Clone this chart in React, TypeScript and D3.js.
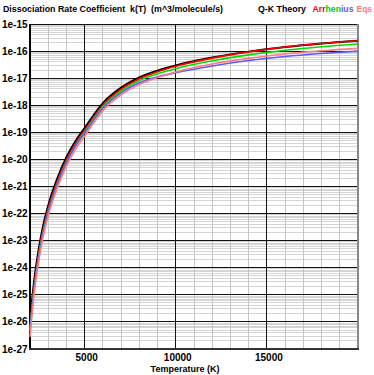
import React from "react";
import * as d3 from "d3";

const temps = [2000, 2200, 2400, 2600, 2800, 3000, 3500, 4000, 4500, 5000, 6000, 7000, 8000, 9000, 10000, 12000, 14000, 16000, 18000, 20000];

// log10 k(T), m^3/molecule/s
const qkTheory = [-26.0, -24.65, -23.65, -22.85, -22.22, -21.7, -20.7, -19.92, -19.32, -18.84, -17.92, -17.35, -16.97, -16.72, -16.53, -16.24, -16.02, -15.85, -15.72, -15.62];
const arrRed = [-26.2, -24.83, -23.81, -22.99, -22.35, -21.82, -20.81, -20.02, -19.41, -18.92, -17.99, -17.41, -17.02, -16.76, -16.56, -16.26, -16.03, -15.85, -15.72, -15.62];
const henGreen = [-26.3, -24.93, -23.91, -23.09, -22.45, -21.92, -20.9, -20.1, -19.48, -18.99, -18.06, -17.48, -17.09, -16.84, -16.65, -16.36, -16.14, -15.97, -15.84, -15.74];
const iusBlue = [-26.35, -24.97, -23.95, -23.13, -22.48, -21.94, -20.92, -20.12, -19.51, -19.03, -18.11, -17.54, -17.17, -16.95, -16.8, -16.55, -16.35, -16.2, -16.09, -16.0];
const eqsPink = [-26.55, -25.15, -24.11, -23.28, -22.62, -22.08, -21.05, -20.25, -19.63, -19.14, -18.2, -17.62, -17.23, -16.97, -16.77, -16.48, -16.27, -16.11, -15.99, -15.9];

const xTicks = [5000, 10000, 15000];
const yExponents = [-15, -16, -17, -18, -19, -20, -21, -22, -23, -24, -25, -26, -27];

const font = "'Liberation Sans', Arial, sans-serif";

export default function App() {
  const x = d3.scaleLinear().domain([2000, 20000]).range([30, 358]);
  const y = d3.scaleLog().domain([1e-27, 1e-15]).range([349, 24]);

  const minorX = d3.range(3000, 20000, 1000).filter((t) => t % 5000 !== 0);
  const minorY: number[] = [];
  yExponents.slice(0, -1).forEach((e) => {
    d3.range(2, 10).forEach((m) => minorY.push(m * Math.pow(10, e - 1)));
  });

  const line = d3
    .line<number>()
    .x((_, i) => x(temps[i]))
    .y((v) => y(Math.pow(10, v)))
    .curve(d3.curveMonotoneX);

  const series = [
    { data: qkTheory, color: "#000000", w: 2 },
    { data: arrRed, color: "#ff0000", w: 1.6 },
    { data: henGreen, color: "#00dd00", w: 1.6 },
    { data: iusBlue, color: "#5c5cff", w: 1.6 },
    { data: eqsPink, color: "#ff7c7c", w: 1.6 },
  ];

  return (
    <div style={{ position: "absolute", left: 0, top: 0 }}>
      <svg width={374} height={375} style={{ display: "block", background: "#fff" }}>
        <rect x={0} y={0} width={374} height={375} fill="#fff" />
        <g shapeRendering="crispEdges">
          {minorY.map((v, i) => (
            <line key={"my" + i} x1={30} x2={358} y1={y(v)} y2={y(v)} stroke="#d4d4d4" />
          ))}
          {minorX.map((t) => (
            <line key={"mx" + t} x1={x(t)} x2={x(t)} y1={24} y2={349} stroke="#c4c4c4" />
          ))}
          {yExponents.map((e) => (
            <line key={"dy" + e} x1={30} x2={358} y1={y(Math.pow(10, e))} y2={y(Math.pow(10, e))} stroke="#111" />
          ))}
          {xTicks.map((t) => (
            <line key={"dx" + t} x1={x(t)} x2={x(t)} y1={24} y2={349} stroke="#111" />
          ))}
          <line x1={358} x2={358} y1={24} y2={350} stroke="#888" strokeWidth={2} />
          <line x1={30} x2={30} y1={24} y2={350} stroke="#000" strokeWidth={2} />
          <line x1={29} x2={359} y1={349} y2={349} stroke="#333" strokeWidth={2} />
        </g>

        {series.map((s, i) => (
          <path key={i} d={line(s.data) || ""} fill="none" stroke={s.color} strokeWidth={s.w} />
        ))}

        <g fontFamily={font} fontWeight="bold" fill="#000">
          <text x={3} y={12} fontSize={9} textLength={220} lengthAdjust="spacingAndGlyphs" style={{ whiteSpace: "pre" }}>
            Dissociation Rate Coefficient  k(T)  (m^3/molecule/s)
          </text>
          <text x={258} y={12} fontSize={9} textLength={48} lengthAdjust="spacingAndGlyphs">
            Q-K Theory
          </text>
          <text x={312.5} y={12} fontSize={9} textLength={41} lengthAdjust="spacingAndGlyphs">
            <tspan fill="#ff0000">Arr</tspan>
            <tspan fill="#00cc00">hen</tspan>
            <tspan fill="#5c5cff">ius</tspan>
          </text>
          <text x={356.5} y={12} fontSize={9} fill="#ff7c7c" textLength={15.5} lengthAdjust="spacingAndGlyphs">
            Eqs
          </text>
          {yExponents.map((e) => (
            <text key={"yl" + e} x={27.5} y={y(Math.pow(10, e)) + 3.5} fontSize={10} textAnchor="end">
              {"1e" + e}
            </text>
          ))}
          {xTicks.map((t) => (
            <text key={"xl" + t} x={x(t) + 2} y={361} fontSize={10} textAnchor="middle">
              {t}
            </text>
          ))}
          <text x={185} y={372} fontSize={9} textAnchor="middle">
            Temperature (K)
          </text>
        </g>
      </svg>
    </div>
  );
}
